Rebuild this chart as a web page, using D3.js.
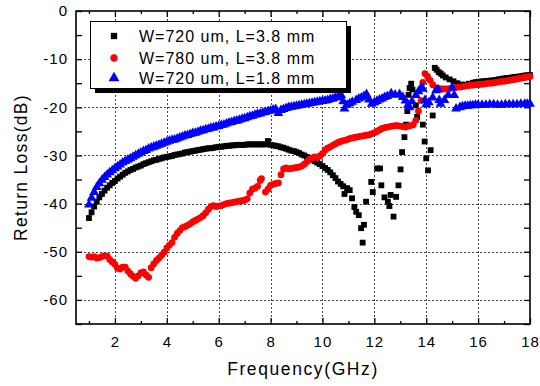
<!DOCTYPE html>
<html>
<head>
<meta charset="utf-8">
<script src="https://cdn.jsdelivr.net/npm/d3@7"></script>
<style>
  body { margin: 0; background: #fff; }
  text { font-family: "Liberation Sans", Arial, sans-serif; fill: #000; }
</style>
</head>
<body>
<svg id="chart" width="540" height="386"></svg>
<script>
// series labels
const seriesNames = ["W=720 um, L=3.8 mm", "W=780 um, L=3.8 mm", "W=720 um, L=1.8 mm"];

// [frequency GHz, return loss dB]
const blackData = [
  [1.0,-43.0],[1.1,-41.8],[1.2,-40.6],[1.3,-39.6],[1.4,-38.7],[1.5,-38.0],[1.6,-37.3],[1.7,-36.7],
  [1.8,-36.2],[1.9,-35.7],[2.0,-35.3],[2.1,-34.8],[2.2,-34.4],[2.3,-34.0],[2.4,-33.6],[2.5,-33.3],
  [2.6,-33.0],[2.7,-32.8],[2.8,-32.5],[2.9,-32.3],[3.0,-32.1],[3.1,-31.8],[3.2,-31.6],[3.3,-31.4],
  [3.4,-31.2],[3.5,-31.0],[3.6,-30.9],[3.7,-30.7],[3.8,-30.6],[3.9,-30.4],[4.0,-30.3],[4.1,-30.2],
  [4.2,-30.1],[4.3,-29.9],[4.4,-29.8],[4.5,-29.7],[4.6,-29.6],[4.7,-29.4],[4.8,-29.3],[4.9,-29.2],
  [5.0,-29.1],[5.1,-29.0],[5.2,-28.9],[5.3,-28.8],[5.4,-28.7],[5.5,-28.6],[5.6,-28.5],[5.7,-28.5],
  [5.8,-28.4],[5.9,-28.3],[6.0,-28.2],[6.1,-28.2],[6.2,-28.1],[6.3,-28.0],[6.4,-28.0],[6.5,-27.9],
  [6.6,-27.9],[6.7,-27.8],[6.8,-27.8],[6.9,-27.8],[7.0,-27.8],[7.1,-27.7],[7.2,-27.7],[7.3,-27.7],
  [7.4,-27.7],[7.5,-27.7],[7.6,-27.7],[7.7,-27.7],[7.8,-27.7],[7.9,-27.0],[8.0,-27.8],[8.1,-27.9],
  [8.2,-28.0],[8.3,-28.1],[8.4,-28.3],[8.5,-28.4],[8.6,-28.6],[8.7,-28.8],[8.8,-29.0],[8.9,-29.1],
  [9.0,-29.3],[9.1,-29.5],[9.2,-29.8],[9.3,-30.0],[9.4,-30.3],[9.5,-30.6],[9.6,-30.9],[9.7,-31.2],
  [9.8,-31.5],[9.9,-31.8],[10.0,-32.2],[10.1,-32.6],[10.2,-33.0],[10.3,-33.5],[10.4,-34.1],[10.5,-34.7],
  [10.6,-35.4],[10.7,-35.9],[10.8,-36.4],[10.85,-38.0],[10.95,-36.8],[11.05,-37.2],[11.14,-38.9],[11.23,-40.7],
  [11.3,-41.7],[11.4,-42.4],[11.49,-45.1],[11.55,-48.1],[11.6,-44.4],[11.68,-39.6],[11.88,-35.5],[11.94,-37.6],
  [12.11,-32.7],[12.22,-32.7],[12.27,-36.2],[12.39,-38.7],[12.52,-39.6],[12.58,-40.5],[12.63,-38.2],[12.74,-42.7],
  [12.84,-38.6],[12.93,-36.2],[13.01,-32.9],[13.07,-29.3],[13.16,-26.2],[13.22,-23.6],[13.27,-20.8],[13.32,-17.4],
  [13.36,-16.0],[13.42,-15.1],[13.47,-16.3],[13.6,-19.6],[13.65,-22.0],[13.87,-23.6],[13.94,-27.1],[14.0,-30.6],
  [14.07,-33.1],[14.17,-28.9],[14.25,-21.7],[14.33,-11.8],[14.4,-12.2],[14.48,-12.7],[14.56,-13.0],[14.64,-13.4],
  [14.75,-13.8],[14.9,-14.2],[15.05,-14.6],[15.2,-15.0],[15.35,-15.3],[15.5,-15.3],[15.65,-15.1],[15.8,-14.9],
  [15.9,-14.8],[16.0,-14.7],[16.1,-14.65],[16.2,-14.6],[16.3,-14.55],[16.4,-14.5],[16.5,-14.45],[16.6,-14.4],
  [16.7,-14.3],[16.8,-14.2],[16.9,-14.1],[17.0,-14.0],[17.1,-13.95],[17.2,-13.9],[17.3,-13.8],[17.4,-13.7],
  [17.5,-13.65],[17.6,-13.6],[17.7,-13.5],[17.8,-13.4],[17.9,-13.35],[18.0,-13.3]
];

const redData = [
  [1.0,-51.0],[1.1,-51.1],[1.2,-51.0],[1.3,-51.3],[1.4,-51.2],[1.5,-51.0],[1.6,-50.8],[1.7,-50.9],
  [1.8,-51.6],[1.9,-52.1],[2.0,-52.6],[2.1,-53.4],[2.2,-53.6],[2.3,-53.2],[2.4,-53.2],[2.5,-54.0],
  [2.6,-54.6],[2.7,-55.1],[2.8,-55.5],[2.9,-55.0],[3.0,-54.4],[3.1,-54.2],[3.2,-54.8],[3.3,-55.3],
  [3.4,-53.3],[3.5,-52.5],[3.6,-51.8],[3.7,-51.3],[3.8,-50.7],[3.9,-50.1],[4.0,-49.2],[4.1,-48.6],
  [4.2,-48.1],[4.3,-47.0],[4.4,-46.2],[4.5,-45.6],[4.6,-45.0],[4.7,-44.8],[4.8,-44.5],[4.9,-44.2],
  [5.0,-43.8],[5.1,-43.5],[5.2,-43.2],[5.3,-42.9],[5.4,-42.5],[5.5,-41.9],[5.6,-41.2],[5.7,-40.6],
  [5.8,-40.4],[5.9,-40.6],[6.0,-40.5],[6.1,-40.4],[6.2,-40.2],[6.3,-40.0],[6.4,-39.9],[6.5,-39.8],
  [6.6,-39.7],[6.7,-39.6],[6.8,-39.5],[6.9,-39.4],[7.0,-39.3],[7.1,-39.0],[7.2,-37.8],[7.3,-37.0],
  [7.4,-36.8],[7.5,-36.4],[7.6,-35.2],[7.65,-34.8],[7.8,-37.6],[7.9,-37.0],[8.0,-36.2],[8.1,-36.0],
  [8.2,-35.8],[8.3,-35.7],[8.4,-34.0],[8.5,-32.8],[8.6,-32.6],[8.7,-32.8],[8.8,-32.7],[8.9,-32.6],
  [9.0,-32.5],[9.1,-32.4],[9.2,-32.2],[9.3,-31.8],[9.4,-31.3],[9.5,-30.8],[9.6,-30.5],[9.7,-30.3],
  [9.8,-30.5],[9.9,-30.1],[10.0,-29.6],[10.1,-28.9],[10.2,-28.5],[10.3,-28.2],[10.4,-27.9],[10.5,-27.6],
  [10.6,-27.3],[10.7,-27.1],[10.8,-26.9],[10.9,-26.8],[11.0,-26.6],[11.1,-26.4],[11.2,-26.3],[11.3,-26.2],
  [11.4,-26.1],[11.5,-26.0],[11.6,-25.9],[11.7,-25.8],[11.8,-25.7],[11.9,-25.5],[12.0,-25.3],[12.1,-25.0],
  [12.2,-24.7],[12.3,-24.4],[12.4,-24.2],[12.5,-24.1],[12.6,-24.0],[12.7,-23.9],[12.8,-23.8],[12.9,-23.8],
  [13.0,-23.9],[13.1,-24.0],[13.2,-24.1],[13.3,-23.9],[13.4,-23.8],[13.5,-23.6],[13.6,-22.7],[13.7,-20.8],
  [13.8,-18.6],[13.87,-14.8],[13.95,-13.0],[14.05,-13.6],[14.15,-14.4],[14.25,-15.3],[14.4,-16.0],[14.5,-16.1],
  [14.6,-16.2],[14.7,-16.2],[14.8,-16.2],[14.9,-16.1],[15.0,-16.0],[15.1,-15.9],[15.2,-15.8],[15.3,-15.8],
  [15.4,-15.7],[15.5,-15.6],[15.6,-15.5],[15.7,-15.4],[15.8,-15.4],[15.9,-15.3],[16.0,-15.3],[16.1,-15.2],
  [16.2,-15.2],[16.3,-15.1],[16.4,-15.0],[16.5,-15.0],[16.6,-14.9],[16.7,-14.8],[16.8,-14.7],[16.9,-14.6],
  [17.0,-14.6],[17.1,-14.5],[17.2,-14.4],[17.3,-14.3],[17.4,-14.2],[17.5,-14.1],[17.6,-14.0],[17.7,-13.9],
  [17.8,-13.8],[17.9,-13.7],[18.0,-13.6]
];

const blueData = [
  [1.0,-40.2],[1.1,-38.8],[1.2,-37.6],[1.3,-36.6],[1.4,-35.8],[1.5,-35.1],[1.6,-34.5],[1.7,-34.0],
  [1.8,-33.5],[1.9,-33.1],[2.0,-32.7],[2.1,-32.3],[2.2,-31.9],[2.3,-31.5],[2.4,-31.2],[2.5,-30.9],
  [2.6,-30.6],[2.7,-30.3],[2.8,-30.0],[2.9,-29.7],[3.0,-29.4],[3.1,-29.1],[3.2,-28.9],[3.3,-28.6],
  [3.4,-28.4],[3.5,-28.2],[3.6,-28.0],[3.7,-27.8],[3.8,-27.6],[3.9,-27.4],[4.0,-27.2],[4.1,-27.0],
  [4.2,-26.8],[4.3,-26.7],[4.4,-26.5],[4.5,-26.3],[4.6,-26.1],[4.7,-25.9],[4.8,-25.8],[4.9,-25.6],
  [5.0,-25.4],[5.1,-25.3],[5.2,-25.1],[5.3,-24.9],[5.4,-24.8],[5.5,-24.6],[5.6,-24.5],[5.7,-24.3],
  [5.8,-24.2],[5.9,-24.0],[6.0,-23.9],[6.1,-23.7],[6.2,-23.6],[6.3,-23.4],[6.4,-23.2],[6.5,-23.1],
  [6.6,-22.9],[6.7,-22.8],[6.8,-22.6],[6.9,-22.4],[7.0,-22.3],[7.1,-22.1],[7.2,-21.9],[7.3,-21.8],
  [7.4,-21.6],[7.5,-21.4],[7.6,-21.3],[7.7,-21.1],[7.8,-21.0],[7.9,-20.8],[8.0,-20.7],[8.1,-20.5],
  [8.2,-20.4],[8.3,-21.2],[8.4,-20.6],[8.5,-20.4],[8.6,-20.2],[8.7,-20.0],[8.8,-19.9],[8.9,-19.8],
  [9.0,-19.7],[9.1,-19.6],[9.2,-19.5],[9.3,-19.4],[9.4,-19.3],[9.5,-19.2],[9.6,-19.1],[9.7,-19.0],
  [9.8,-18.9],[9.9,-18.8],[10.0,-18.7],[10.1,-18.6],[10.2,-18.5],[10.3,-18.3],[10.4,-18.2],[10.5,-18.0],
  [10.6,-17.9],[10.72,-17.5],[10.8,-18.8],[10.85,-20.3],[10.95,-19.5],[11.05,-19.2],[11.15,-18.9],[11.3,-18.5],
  [11.4,-18.2],[11.5,-18.0],[11.6,-17.7],[11.7,-17.3],[11.8,-18.4],[11.9,-19.3],[12.0,-19.0],[12.1,-18.7],
  [12.2,-18.4],[12.3,-18.2],[12.4,-17.9],[12.5,-17.7],[12.65,-17.1],[12.8,-17.4],[12.97,-17.3],[13.1,-17.9],
  [13.2,-18.6],[13.3,-19.5],[13.35,-20.0],[13.45,-18.8],[13.6,-17.5],[13.7,-16.7],[13.8,-15.9],[13.87,-16.2],
  [13.95,-18.5],[14.0,-19.4],[14.1,-19.0],[14.25,-18.0],[14.38,-16.5],[14.45,-16.3],[14.5,-18.5],[14.55,-19.3],
  [14.7,-18.5],[14.85,-17.5],[15.0,-15.9],[15.08,-17.5],[15.15,-20.3],[15.3,-20.0],[15.4,-19.8],[15.5,-19.7],
  [15.6,-19.7],[15.7,-19.6],[15.8,-19.6],[15.9,-19.5],[16.0,-19.5],[16.15,-19.5],[16.3,-19.5],[16.45,-19.4],
  [16.6,-19.4],[16.75,-19.5],[16.9,-19.5],[17.05,-19.4],[17.2,-19.4],[17.35,-19.4],[17.5,-19.4],[17.65,-19.3],
  [17.8,-19.3],[17.9,-19.3],[18.0,-19.3]
];

const xTicks = [2, 4, 6, 8, 10, 12, 14, 16, 18];
const xMinor = [1, 3, 5, 7, 9, 11, 13, 15, 17];
const yTicks = [0, -10, -20, -30, -40, -50, -60];
const yMinor = [-5, -15, -25, -35, -45, -55, -65];

const plotL = 76, plotR = 530, plotT = 11, plotB = 324;

const svg = d3.select("#chart");
const x = d3.scaleLinear().domain([0.5, 18]).range([plotL, plotR]);
const y = d3.scaleLinear().domain([-65, 0]).range([plotB, plotT]);

// dotted grid
const grid = svg.append("g").attr("stroke", "#444").attr("stroke-width", 1)
  .attr("stroke-dasharray", "2,2");
grid.selectAll("line.gx").data(xTicks.filter(d => d < 18)).join("line")
  .attr("x1", d => Math.round(x(d)) + 0.5).attr("x2", d => Math.round(x(d)) + 0.5)
  .attr("y1", plotT).attr("y2", plotB);
grid.selectAll("line.gy").data(yTicks.filter(d => d < 0)).join("line")
  .attr("y1", d => Math.round(y(d)) + 0.5).attr("y2", d => Math.round(y(d)) + 0.5)
  .attr("x1", plotL).attr("x2", plotR);

// axes, ticks pointing inward on all four sides
const plain = d => String(d);  // plain hyphen minus, like the original
function styleAxis(g) {
  g.select(".domain").remove();
  g.selectAll(".tick line").attr("stroke", "#000").attr("stroke-width", 1.3);
  g.selectAll("text").attr("font-size", 15).attr("letter-spacing", 1)
    .style("font-family", "'Liberation Sans', Arial, sans-serif");
}
svg.append("g").attr("transform", `translate(0,${plotB})`)
  .call(d3.axisBottom(x).tickValues(xTicks).tickSize(-6).tickPadding(12).tickFormat(plain))
  .call(styleAxis);
svg.append("g").attr("transform", `translate(0,${plotB})`)
  .call(d3.axisBottom(x).tickValues(xMinor).tickSize(-3).tickFormat(""))
  .call(styleAxis);
svg.append("g").attr("transform", `translate(0,${plotT})`)
  .call(d3.axisTop(x).tickValues(xTicks).tickSize(-6).tickFormat(""))
  .call(styleAxis);
svg.append("g").attr("transform", `translate(0,${plotT})`)
  .call(d3.axisTop(x).tickValues(xMinor).tickSize(-3).tickFormat(""))
  .call(styleAxis);
svg.append("g").attr("transform", `translate(${plotL},0)`)
  .call(d3.axisLeft(y).tickValues(yTicks).tickSize(-6).tickPadding(8).tickFormat(plain))
  .call(styleAxis);
svg.append("g").attr("transform", `translate(${plotL},0)`)
  .call(d3.axisLeft(y).tickValues(yMinor).tickSize(-6).tickFormat(""))
  .call(styleAxis);
svg.append("g").attr("transform", `translate(${plotR},0)`)
  .call(d3.axisRight(y).tickValues(yTicks).tickSize(-6).tickFormat(""))
  .call(styleAxis);
svg.append("g").attr("transform", `translate(${plotR},0)`)
  .call(d3.axisRight(y).tickValues(yMinor).tickSize(-6).tickFormat(""))
  .call(styleAxis);

// frame
svg.append("rect").attr("x", plotL).attr("y", plotT)
  .attr("width", plotR - plotL).attr("height", plotB - plotT)
  .attr("fill", "none").attr("stroke", "#000").attr("stroke-width", 1.6);

// markers
const square = d3.symbol().type(d3.symbolSquare).size(34);
const circle = d3.symbol().type(d3.symbolCircle).size(36);
const triangle = d3.symbol().type(d3.symbolTriangle).size(42);

const series = [
  {data: blackData, color: "#000000", sym: square},
  {data: redData, color: "#ff0000", sym: circle},
  {data: blueData, color: "#0000ff", sym: triangle}
];

series.forEach(s => {
  svg.append("g").selectAll("path").data(s.data).join("path")
    .attr("d", s.sym)
    .attr("fill", s.color)
    .attr("transform", d => `translate(${x(d[0])},${y(d[1])})`);
});

// legend with drop shadow
const lg = svg.append("g");
lg.append("rect").attr("x", 95).attr("y", 26).attr("width", 256).attr("height", 67).attr("fill", "#000");
lg.append("rect").attr("x", 90.5).attr("y", 21.5).attr("width", 256).attr("height", 67)
  .attr("fill", "#fff").attr("stroke", "#000").attr("stroke-width", 1);
const rowY = [36, 58, 78];
const legendSym = [
  d3.symbol().type(d3.symbolSquare).size(40),
  d3.symbol().type(d3.symbolCircle).size(42),
  d3.symbol().type(d3.symbolTriangle).size(52)
];
series.forEach((s, i) => {
  lg.append("path").attr("d", legendSym[i])
    .attr("fill", s.color).attr("transform", `translate(114,${rowY[i]})`);
  lg.append("text").attr("x", 139).attr("y", rowY[i] + 6)
    .attr("font-size", 16).attr("letter-spacing", 1).text(seriesNames[i]);
});

// axis titles
svg.append("text").attr("x", (plotL + plotR) / 2).attr("y", 375)
  .attr("text-anchor", "middle").attr("font-size", 17.5).attr("letter-spacing", 1.6)
  .text("Frequency(GHz)");
svg.append("text").attr("transform", `translate(27,${(plotT + plotB) / 2}) rotate(-90)`)
  .attr("text-anchor", "middle").attr("font-size", 17.5).attr("letter-spacing", 1.3)
  .text("Return Loss(dB)");
</script>
</body>
</html>
